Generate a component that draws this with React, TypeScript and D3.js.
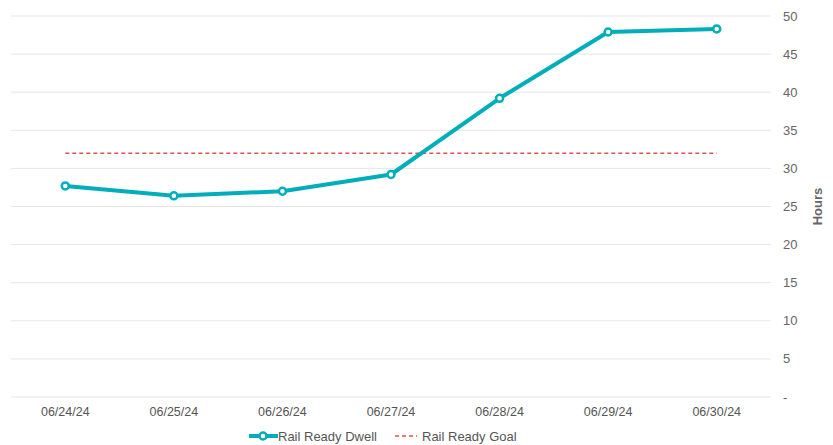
import * as d3 from "d3"
import { useRef, useEffect } from "react"

const dates = ["06/24/24", "06/25/24", "06/26/24", "06/27/24", "06/28/24", "06/29/24", "06/30/24"]
const dwell = [27.7, 26.4, 27.0, 29.2, 39.2, 47.9, 48.3]
const goal = [32, 32, 32, 32, 32, 32, 32]
const yTicks = [0, 5, 10, 15, 20, 25, 30, 35, 40, 45, 50]

const App = () => {
  const svgRef = useRef<SVGSVGElement>(null)
  const width = 833
  const height = 445
  const left = 11
  const right = 771
  const top = 16
  const bottom = 397
  const teal = "#00aebb"
  const red = "#e0554d"
  const font = "'Liberation Sans', Arial, sans-serif"

  useEffect(() => {
    const svg = d3.select(svgRef.current)
    svg.selectAll("*").remove()

    const x = d3.scaleBand().domain(dates).range([left, right])
    const y = d3.scaleLinear().domain([0, 50]).range([bottom, top])
    const cx = (d: string) => (x(d) as number) + x.bandwidth() / 2

    // grid
    svg
      .append("g")
      .selectAll("line")
      .data(yTicks)
      .join("line")
      .attr("x1", left)
      .attr("x2", right)
      .attr("y1", (d) => y(d))
      .attr("y2", (d) => y(d))
      .attr("stroke", "#e6e6e6")
      .attr("stroke-width", 1)

    // right axis labels
    svg
      .append("g")
      .selectAll("text")
      .data(yTicks)
      .join("text")
      .attr("x", 783)
      .attr("y", (d) => y(d))
      .attr("dy", "0.35em")
      .attr("font-family", font)
      .attr("font-size", 13)
      .attr("fill", "#666")
      .text((d) => (d === 0 ? "-" : String(d)))

    svg
      .append("text")
      .attr("transform", `translate(822, ${(top + bottom) / 2}) rotate(-90)`)
      .attr("text-anchor", "middle")
      .attr("font-family", font)
      .attr("font-size", 13)
      .attr("font-weight", "bold")
      .attr("fill", "#666")
      .text("Hours")

    // x labels
    svg
      .append("g")
      .selectAll("text")
      .data(dates)
      .join("text")
      .attr("x", (d) => cx(d))
      .attr("y", 416)
      .attr("text-anchor", "middle")
      .attr("font-family", font)
      .attr("font-size", 12.5)
      .attr("fill", "#555")
      .text((d) => d)

    // goal line
    const line = d3
      .line<number>()
      .x((_, i) => cx(dates[i]))
      .y((d) => y(d))

    svg
      .append("path")
      .attr("d", line(goal))
      .attr("fill", "none")
      .attr("stroke", red)
      .attr("stroke-width", 1.5)
      .attr("stroke-dasharray", "4,3")

    // dwell line
    svg
      .append("path")
      .attr("d", line(dwell))
      .attr("fill", "none")
      .attr("stroke", teal)
      .attr("stroke-width", 4)
      .attr("stroke-linejoin", "round")

    svg
      .append("g")
      .selectAll("circle")
      .data(dwell)
      .join("circle")
      .attr("cx", (_, i) => cx(dates[i]))
      .attr("cy", (d) => y(d))
      .attr("r", 3.5)
      .attr("fill", "#fff")
      .attr("stroke", teal)
      .attr("stroke-width", 2.5)

    // legend
    const lg = svg.append("g")
    lg.append("line")
      .attr("x1", 249)
      .attr("x2", 278)
      .attr("y1", 436)
      .attr("y2", 436)
      .attr("stroke", teal)
      .attr("stroke-width", 4)
    lg.append("circle")
      .attr("cx", 263)
      .attr("cy", 436)
      .attr("r", 3.5)
      .attr("fill", "#fff")
      .attr("stroke", teal)
      .attr("stroke-width", 2.5)
    lg.append("text")
      .attr("x", 278)
      .attr("y", 436)
      .attr("dy", "0.35em")
      .attr("font-family", font)
      .attr("font-size", 13)
      .attr("fill", "#555")
      .text("Rail Ready Dwell")
    lg.append("line")
      .attr("x1", 395)
      .attr("x2", 417)
      .attr("y1", 436)
      .attr("y2", 436)
      .attr("stroke", red)
      .attr("stroke-width", 1.5)
      .attr("stroke-dasharray", "4,3")
    lg.append("text")
      .attr("x", 422)
      .attr("y", 436)
      .attr("dy", "0.35em")
      .attr("font-family", font)
      .attr("font-size", 13)
      .attr("fill", "#555")
      .text("Rail Ready Goal")
  }, [])

  return (
    <svg
      ref={svgRef}
      width={width}
      height={height}
      style={{ position: "absolute", left: 0, top: 0, background: "#fff" }}
    ></svg>
  )
}

export default App
